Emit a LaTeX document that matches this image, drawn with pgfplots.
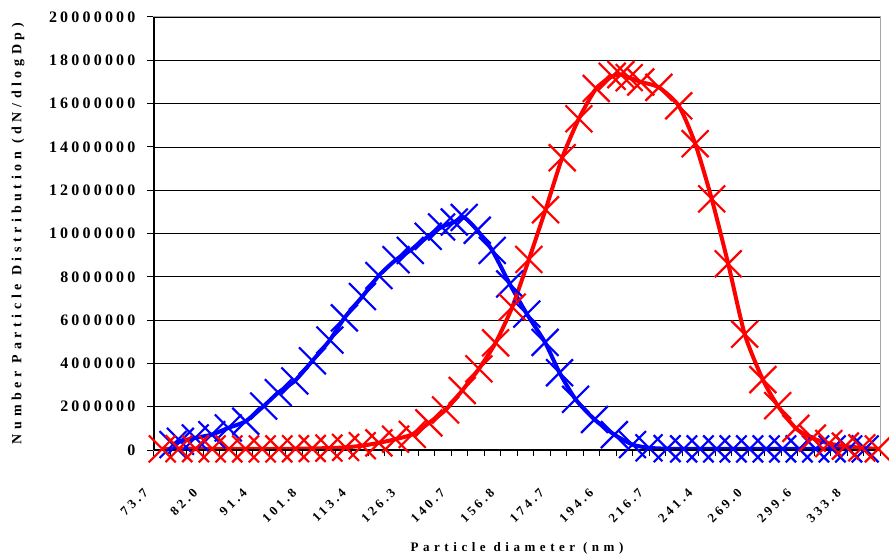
\documentclass[border=0pt]{standalone}
\usepackage{fontspec}
\setmainfont{Liberation Serif}
\newfontfamily\tickfont[LetterSpace=25]{Liberation Serif}
\newfontfamily\ytickfont[LetterSpace=20]{Liberation Serif}
\newfontfamily\xlabfont[LetterSpace=35]{Liberation Serif}
\newfontfamily\ylabfont[LetterSpace=33]{Liberation Serif}
\usepackage{pgfplots}
\pgfplotsset{compat=1.18}
\begin{document}
\begin{tikzpicture}
\useasboundingbox (-154pt,-107pt) rectangle (735pt,450pt);
\begin{axis}[
  scale only axis, width=726pt, height=433pt,
  xmin=-0.5, xmax=43.5, ymin=0, ymax=20000000,
  clip=false, scaled y ticks=false,
  axis line style={draw=gray!70, line width=1pt},
  tick pos=left, tick align=outside, major tick length=7pt, minor tick length=6pt,
  tick style={black, line width=1pt},
  ytick={0,2000000,4000000,6000000,8000000,10000000,12000000,14000000,16000000,18000000,20000000},
  yticklabels={0,2000000,4000000,6000000,8000000,10000000,12000000,14000000,16000000,18000000,20000000},
  yticklabel style={font=\ytickfont\bfseries\fontsize{16}{16}\selectfont, anchor=east, xshift=-8pt},
  ymajorgrids, grid style={black, line width=0.8pt},
  xtick={0,3,...,42},
  xticklabels={73.7,82.0,91.4,101.8,113.4,126.3,140.7,156.8,174.7,194.6,216.7,241.4,269.0,299.6,333.8},
  minor xtick={-0.5,0.5,...,43.5},
  major x tick style={draw=none},
  xticklabel style={font=\tickfont\bfseries\fontsize{13}{13}\selectfont, anchor=east, xshift=-14pt, yshift=-31pt, rotate=45},
  xlabel={Particle diameter (nm)},
  ylabel={Number Particle Distribution (dN/dlogDp)},
  every axis x label/.style={at={(axis description cs:0.5,-0.2263)}, anchor=center, font=\xlabfont\bfseries\fontsize{13}{13}\selectfont},
  every axis y label/.style={at={(axis description cs:-0.1873,0.5)}, rotate=90, anchor=center, font=\ylabfont\bfseries\fontsize{14}{14}\selectfont},
]
\addplot[blue, line width=4pt, smooth, tension=0.4, mark=x, mark size=19pt, mark options={line width=2.2pt, solid}] coordinates {
(0.65,250000)(1.1,400000)(2.0,560000)(3.0,710000)(4.0,1020000)(5.06,1330000)(6.15,2030000)(7.03,2650000)(8.03,3190000)(9.1,4120000)(10.16,5080000)(11.04,6100000)(12.13,7090000)(13.13,8060000)(14.17,8790000)(15.03,9220000)(16.12,9870000)(16.93,10300000)(17.7,10530000)(18.3,10740000)(19.09,10150000)(20.0,9220000)(21.06,7670000)(22.1,6280000)(23.2,4970000)(24.08,3570000)(25.05,2340000)(26.2,1410000)(27.4,710000)(28.5,250000)(29.5,100000)(30.6,60000)(31.6,50000)(32.6,50000)(33.6,50000)(34.6,50000)(35.6,50000)(36.6,50000)(37.6,50000)(38.6,50000)(39.6,50000)(40.6,50000)(41.6,50000)(42.6,50000)
};
\addplot[red, line width=4pt, smooth, tension=0.4, mark=x, mark size=19pt, mark options={line width=2.2pt, solid}] coordinates {
(0,50000)(1.01,60000)(2.02,60000)(3.03,50000)(4.04,50000)(5.05,50000)(6.06,50000)(7.07,50000)(8.08,60000)(9.09,70000)(10.1,90000)(11.11,120000)(12.12,200000)(13.13,330000)(14.14,500000)(15.15,720000)(16.16,1250000)(17.17,1850000)(18.18,2750000)(19.19,3750000)(20.2,4950000)(21.21,6600000)(22.22,8800000)(23.23,11100000)(24.24,13500000)(25.25,15300000)(26.3,16700000)(27.27,17260000)(27.8,17340000)(28.3,17200000)(29.0,17000000)(30.1,16750000)(31.3,15900000)(32.3,14150000)(33.3,11600000)(34.3,8600000)(35.3,5350000)(36.4,3250000)(37.3,2050000)(38.4,1000000)(39.4,550000)(40.4,300000)(41.4,180000)(42.4,100000)(43.4,50000)
};
\draw[black, line width=1.8pt] (rel axis cs:0,0) -- (rel axis cs:0,1);
\draw[black, line width=1.2pt] (rel axis cs:0,0) -- (rel axis cs:1,0);
\end{axis}
\end{tikzpicture}
\end{document}
